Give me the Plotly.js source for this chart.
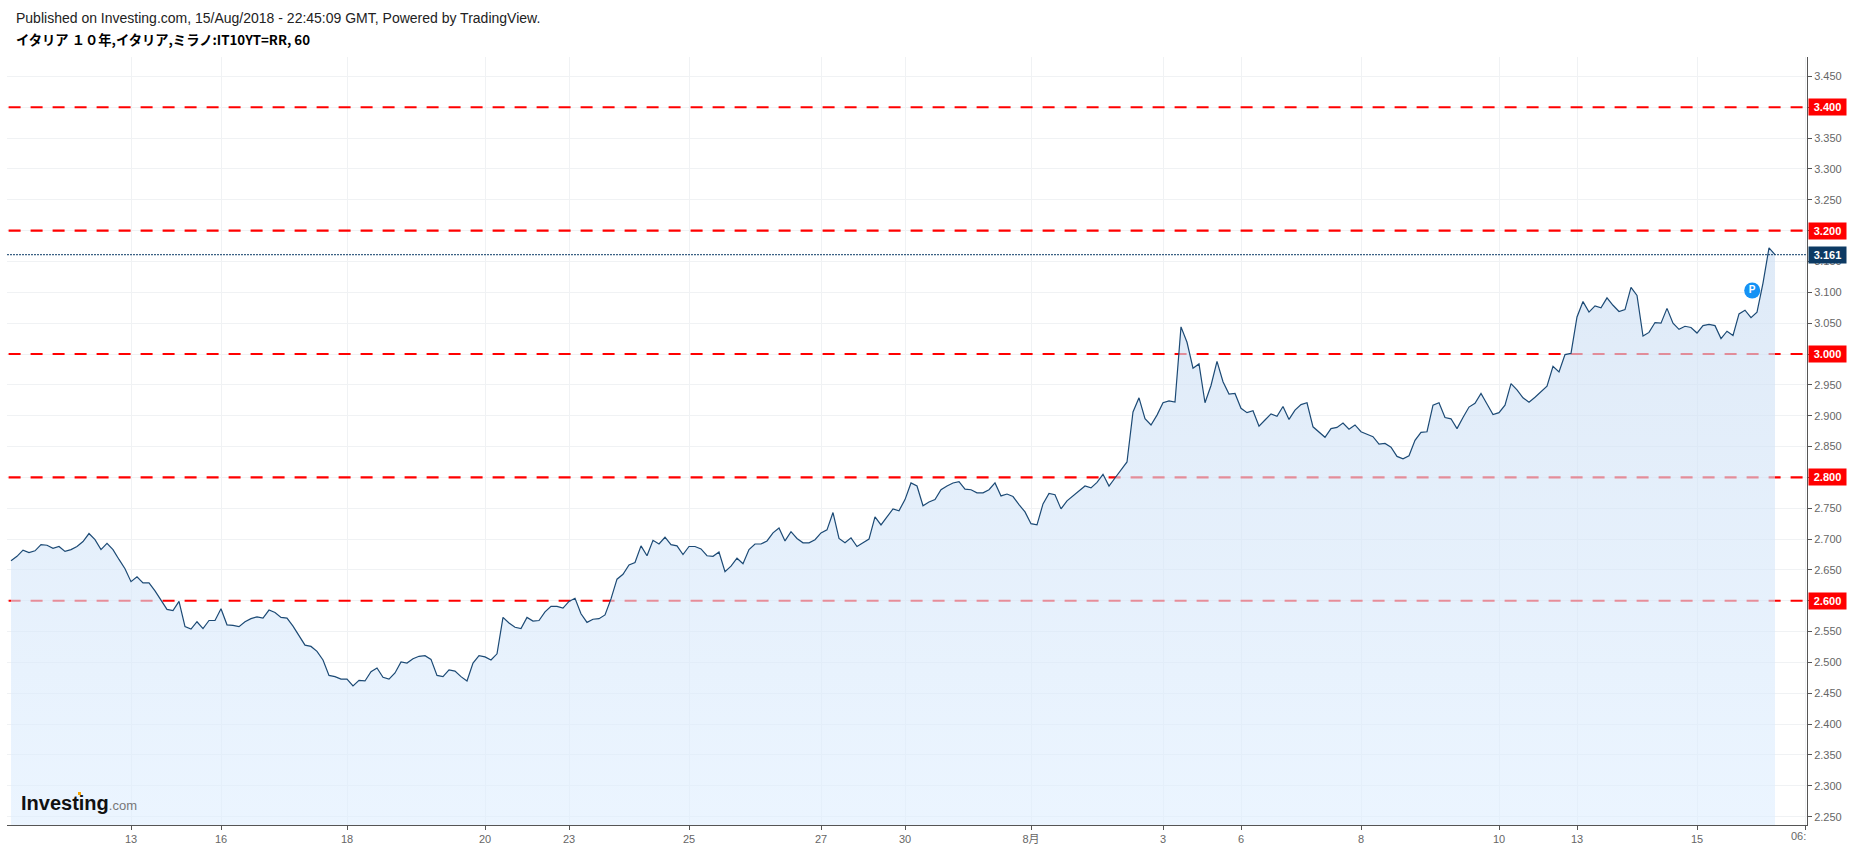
<!DOCTYPE html>
<html><head><meta charset="utf-8">
<script src="https://cdn.plot.ly/plotly-3.0.1.min.js"></script>
<style>html,body{margin:0;padding:0;background:#fff;overflow:hidden}#chart{width:1853px;height:849px}</style>
</head><body><div id="chart"></div>
<script>
const yields = [
2.665,2.672,2.682,2.678,2.681,2.691,2.690,2.685,2.688,2.680,2.683,2.688,2.696,2.709,2.699,2.683,2.693,2.683,2.667,2.652,
2.631,2.639,2.629,2.629,2.616,2.600,2.586,2.584,2.599,2.558,2.554,2.566,2.555,2.568,2.568,2.587,2.561,2.560,2.558,2.566,
2.571,2.574,2.572,2.585,2.581,2.573,2.572,2.559,2.544,2.528,2.526,2.518,2.504,2.479,2.477,2.473,2.473,2.462,2.471,2.470,
2.485,2.491,2.476,2.473,2.483,2.501,2.499,2.506,2.510,2.511,2.505,2.479,2.477,2.488,2.486,2.477,2.470,2.499,2.511,2.509,
2.504,2.514,2.573,2.564,2.557,2.555,2.573,2.567,2.568,2.582,2.591,2.591,2.588,2.599,2.604,2.579,2.565,2.570,2.571,2.577,
2.603,2.635,2.643,2.658,2.662,2.689,2.673,2.698,2.692,2.703,2.691,2.689,2.675,2.688,2.688,2.684,2.673,2.672,2.679,2.647,
2.656,2.669,2.660,2.683,2.692,2.692,2.697,2.710,2.718,2.697,2.712,2.701,2.694,2.694,2.699,2.710,2.715,2.743,2.701,2.694,
2.702,2.688,2.694,2.700,2.736,2.723,2.736,2.749,2.746,2.764,2.791,2.786,2.754,2.760,2.764,2.780,2.786,2.791,2.793,2.781,
2.780,2.775,2.775,2.780,2.791,2.770,2.773,2.769,2.756,2.744,2.725,2.723,2.757,2.774,2.772,2.749,2.762,2.770,2.778,2.786,
2.783,2.792,2.805,2.786,2.799,2.812,2.825,2.906,2.929,2.895,2.885,2.901,2.921,2.924,2.922,3.044,3.019,2.977,2.984,2.921,
2.949,2.988,2.955,2.935,2.936,2.912,2.905,2.908,2.883,2.893,2.903,2.899,2.915,2.894,2.909,2.918,2.921,2.882,2.874,2.865,
2.879,2.881,2.888,2.878,2.885,2.874,2.870,2.866,2.854,2.855,2.849,2.834,2.830,2.835,2.860,2.873,2.874,2.917,2.921,2.897,
2.895,2.879,2.897,2.914,2.920,2.936,2.919,2.902,2.905,2.917,2.952,2.942,2.929,2.922,2.930,2.939,2.948,2.980,2.971,2.999,
3.001,3.060,3.085,3.068,3.078,3.075,3.091,3.079,3.069,3.072,3.108,3.095,3.029,3.035,3.051,3.050,3.074,3.050,3.040,3.045,
3.043,3.034,3.046,3.048,3.046,3.025,3.037,3.030,3.065,3.071,3.059,3.068,3.115,3.172,3.161
];
const levels = [3.4, 3.2, 3.0, 2.8, 2.6];
const lastValue = 3.161;
const xTickIdx = [20,35,56,79,93,113,135,149,170,192,205,225,248,261,281,299];
const xTickText = ['13','16','18','20','23','25','27','30','8月','3','6','8','10','13','15',''];
const yTicks = [2.25,2.3,2.35,2.4,2.45,2.5,2.55,2.6,2.65,2.7,2.75,2.8,2.85,2.9,2.95,3,3.05,3.1,3.15,3.2,3.25,3.3,3.35,3.4,3.45];
const pinIdx = 290.2, pinValue = 3.103;
const xRange = [-0.667, 299.333], yRange = [2.2365, 3.4815];
const levelSpan = [-0.4, 298.6];
const idx = yields.map((_, i) => i);

const traces = [];
levels.forEach(v => traces.push({
  x: levelSpan, y: [v, v], mode: 'lines', hoverinfo: 'skip',
  line: {color: '#ff0000', width: 2.2, dash: '12px,10px'}
}));
traces.push({
  x: idx, y: yields, mode: 'lines', fill: 'tozeroy', hoverinfo: 'skip',
  line: {color: '#1c4a75', width: 1.2},
  fillgradient: {type: 'vertical', start: 2.2365, stop: 3.17,
    colorscale: [[0, 'rgba(222,238,255,0.6)'], [1, 'rgba(204,222,243,0.63)']]}
});
traces.push({
  x: xRange, y: [lastValue, lastValue], mode: 'lines', hoverinfo: 'skip',
  line: {color: '#0b3a66', width: 1, dash: '2px,1px'}
});
traces.push({
  x: [pinIdx], y: [pinValue], mode: 'markers+text', text: ['<b>P</b>'], textposition: 'middle center',
  textfont: {family: 'Liberation Sans', size: 10, color: '#fff'},
  marker: {size: 16, color: '#1592f5'}, hoverinfo: 'skip'
});

const tag = (v, bg) => ({
  xref: 'paper', yref: 'y', x: 1.0006, y: v, xanchor: 'left', yanchor: 'middle', showarrow: false,
  text: '<b>' + v.toFixed(3) + '</b>', font: {family: 'Liberation Sans', size: 11, color: '#fff'},
  bgcolor: bg, width: 37, height: 16, align: 'center', borderpad: 0
});
const txt = (x, y, text, size, color, family) => ({
  xref: 'paper', yref: 'paper', x: (x - 7) / 1800, y: (825 - y) / 768, xanchor: 'left', yanchor: 'middle',
  showarrow: false, text, align: 'left', borderpad: 0, font: {family, size, color}
});

const layout = {
  width: 1853, height: 849, showlegend: false, hovermode: false, paper_bgcolor: '#fff', plot_bgcolor: '#fff',
  margin: {l: 7, r: 46, t: 57, b: 24, pad: 0},
  font: {family: 'Liberation Sans', size: 11, color: '#666'},
  xaxis: {range: xRange, tickmode: 'array', tickvals: xTickIdx, ticktext: xTickText, showgrid: true, gridcolor: '#f0f2f4', gridwidth: 1,
    zeroline: false, showline: true, linecolor: '#555', linewidth: 1, ticks: 'outside', ticklen: 4, tickcolor: '#555',
    tickfont: {family: 'Liberation Sans, Noto Sans CJK JP', size: 11, color: '#666'}},
  yaxis: {range: yRange, side: 'right', tickmode: 'array', tickvals: yTicks, ticktext: yTicks.map(v => v.toFixed(3)), showgrid: true, gridcolor: '#f0f2f4', gridwidth: 1,
    zeroline: false, showline: true, linecolor: '#555', linewidth: 1, ticks: 'outside', ticklen: 4, tickcolor: '#555',
    tickfont: {family: 'Liberation Sans', size: 11, color: '#666'}},
  shapes: [
    {type: 'rect', xref: 'paper', yref: 'paper', x0: (78 - 7) / 1800, x1: (81 - 7) / 1800, y0: (825 - 795) / 768, y1: (825 - 792) / 768,
     fillcolor: '#f7a600', line: {width: 0}, layer: 'above'}
  ],
  annotations: [
    ...levels.map(v => tag(v, '#ff0000')),
    tag(lastValue, '#0d3a63'),
    txt(15, 18, 'Published on Investing.com, 15/Aug/2018 - 22:45:09 GMT, Powered by TradingView.', 14, '#222', 'Liberation Sans'),
    txt(15, 40, '<b>イタリア １０年,イタリア,ミラノ:IT10YT=RR, 60</b>', 13.3, '#000', 'Noto Sans CJK JP'),
    txt(20, 803, '<b>Investing</b><span style="font-size:13px;color:#777">.com</span>', 20, '#111', 'Liberation Sans'),
    {xref: 'paper', yref: 'paper', x: (1807 - 7) / 1800, y: -(836 - 825) / 768, xanchor: 'right', yanchor: 'middle', showarrow: false,
     text: '06:', font: {family: 'Liberation Sans', size: 11, color: '#666'}, borderpad: 0}
  ]
};
Plotly.newPlot('chart', traces, layout, {displayModeBar: false, staticPlot: true});
</script></body></html>
